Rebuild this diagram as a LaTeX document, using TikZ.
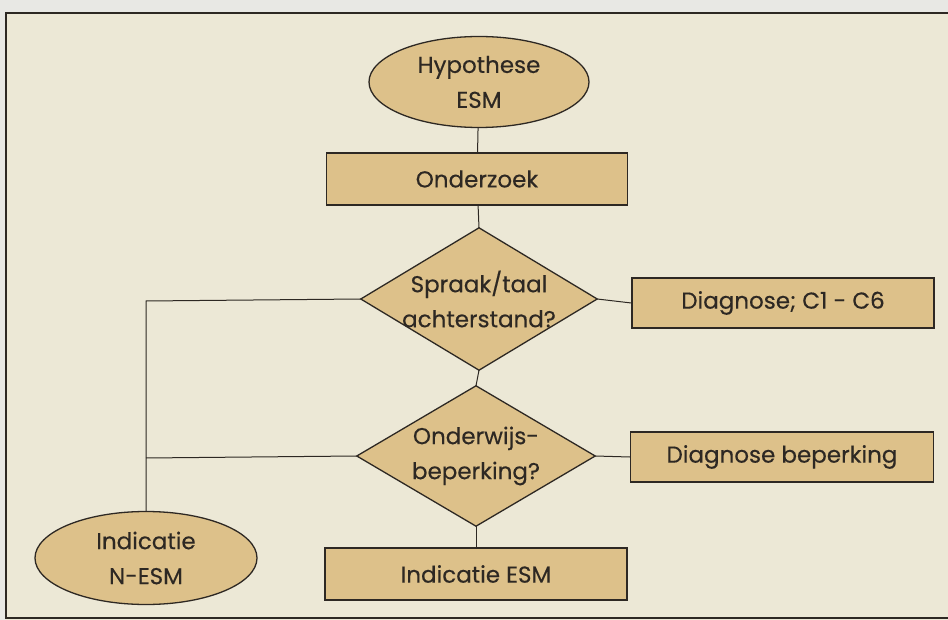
\documentclass[tikz,border=0pt]{standalone}
\usepackage{fontspec}
\setmainfont{Poppins}[FakeBold=0.3]
\usetikzlibrary{shapes.geometric}
\definecolor{paper}{RGB}{236,232,214}
\definecolor{outside}{RGB}{232,232,228}
\definecolor{tan}{RGB}{221,193,138}
\definecolor{ink}{RGB}{45,40,35}
\begin{document}
\begin{tikzpicture}[x=1pt,y=-1pt,
  every node/.style={font=\fontsize{23}{35}\selectfont, text=ink, align=center},
  shapebox/.style={draw=ink, line width=1.3pt, fill=tan},
  oval/.style={shapebox, ellipse, inner sep=0pt},
  rectbox/.style={shapebox, rectangle, inner sep=0pt},
  question/.style={rectangle, inner sep=0pt},
  link/.style={draw=ink, line width=1pt}]
\useasboundingbox (0,0) rectangle (948,620);
\fill[outside] (0,0) rectangle (948,620);
\fill[paper] (6,13) rectangle (948,620);
\draw[ink, line width=2pt] (948,13) -- (6,13) -- (6,618) -- (948,618);

\node[oval, minimum width=220pt, minimum height=91pt] (hyp) at (479,82) {Hypothese\\ESM};
\node[rectbox, minimum width=301pt, minimum height=52pt] (ond) at (477,179) {Onderzoek};
\node[question, minimum width=236pt, minimum height=142pt] (d1) at (479,299) {};
\node[rectbox, minimum width=302pt, minimum height=50pt] (diag1) at (783,303) {Diagnose; C1 - C6};
\node[question, minimum width=238pt, minimum height=140pt] (d2) at (476,456) {};
\node[rectbox, minimum width=303pt, minimum height=50pt] (diag2) at (782,457) {Diagnose beperking};
\node[rectbox, minimum width=302pt, minimum height=52pt] (iesm) at (476,574) {Indicatie ESM};
\node[oval, minimum width=222pt, minimum height=93pt] (nesm) at (146,558) {Indicatie\\N-ESM};

\draw[shapebox] (d1.north) -- (d1.east) -- (d1.south) -- (d1.west) -- cycle;
\draw[shapebox] (d2.north) -- (d2.east) -- (d2.south) -- (d2.west) -- cycle;
\node (d1text) at (d1) {Spraak/taal\\achterstand?};
\node (d2text) at (d2) {Onderwijs-\\beperking?};

\coordinate (c1) at (146,301);
\coordinate (c2) at (146,458);

\draw[link] (hyp) -- (ond);
\draw[link] (ond) -- (d1.north);
\draw[link] (d1.south) -- (d2.north);
\draw[link] (d2.south) -- (iesm);
\draw[link] (d1.east) -- (diag1.west);
\draw[link] (d2.east) -- (diag2.west);
\draw[link] (d1.west) -- (c1) -- (nesm.north);
\draw[link] (d2.west) -- (c2);
\end{tikzpicture}
\end{document}
